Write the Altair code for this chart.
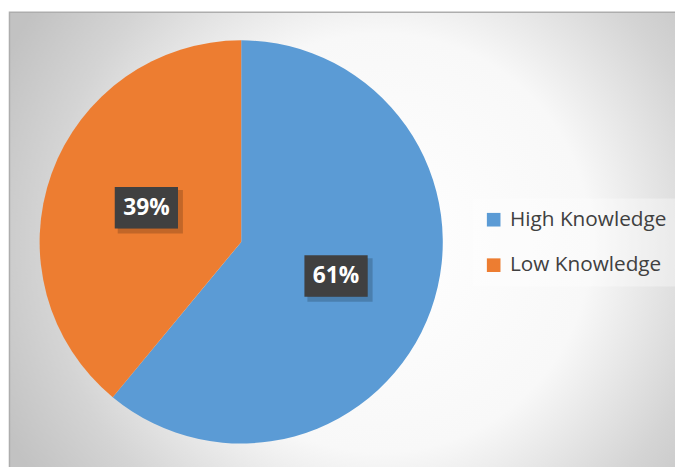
import altair as alt
import pandas as pd

categories = ["High Knowledge", "Low Knowledge"]
values = [61, 39]
labels = ["61%", "39%"]
colors = ["#5B9BD5", "#ED7D31"]

W, H = 675, 459
CX, CY, R = 236, 234, 204
LR = 102
BW, BH = 64, 42

df = pd.DataFrame({"category": categories, "value": values, "label": labels, "order": [0, 1]})

bg = alt.Chart(pd.DataFrame({"a": [0]})).mark_rect(
    fill=alt.RadialGradient(
        gradient="radial",
        stops=[
            alt.GradientStop(offset=0, color="#ffffff"),
            alt.GradientStop(offset=0.5, color="#f8f8f8"),
            alt.GradientStop(offset=0.8, color="#d4d4d4"),
            alt.GradientStop(offset=1, color="#c2c2c2"),
        ],
        x1=0.55, y1=0.5, r1=0, x2=0.55, y2=0.5, r2=0.62,
    ),
    stroke="#adadad",
    strokeWidth=1.5,
).encode(x=alt.value(1.5), x2=alt.value(W + 10), y=alt.value(1.5), y2=alt.value(H + 10))

pie = alt.Chart(df).mark_arc(outerRadius=R).encode(
    theta=alt.Theta("value:Q", stack=True),
    color=alt.Color(
        "category:N",
        scale=alt.Scale(domain=categories, range=colors),
        legend=alt.Legend(
            title=None,
            orient="none",
            legendX=470,
            legendY=190,
            symbolType="square",
            symbolSize=190,
            symbolStrokeWidth=0,
            symbolOpacity=1,
            labelFontSize=21,
            labelFont="Open Sans",
            labelColor="#404040",
            labelOffset=6,
            rowPadding=24,
            padding=11,
            fillColor="rgba(255,255,255,0.35)",
        ),
    ),
    order=alt.Order("order:Q"),
    x=alt.value(CX),
    y=alt.value(CY),
)

pos = (
    alt.Chart(df)
    .transform_joinaggregate(total="sum(value)")
    .transform_window(cum="sum(value)", sort=[alt.SortField("order")], frame=[None, 0])
    .transform_calculate(
        mid="(datum.cum - datum.value / 2) / datum.total * 2 * PI",
    )
    .transform_calculate(
        lx=f"{CX} + {LR} * sin(datum.mid)",
        ly=f"{CY} - {LR} * cos(datum.mid)",
    )
    .transform_calculate(
        bx1=f"datum.lx - {BW / 2}",
        bx2=f"datum.lx + {BW / 2}",
        by1=f"datum.ly - {BH / 2}",
        by2=f"datum.ly + {BH / 2}",
        sx1=f"datum.lx - {BW / 2} + 3",
        sx2=f"datum.lx + {BW / 2} + 5",
        sy1=f"datum.ly - {BH / 2} + 3",
        sy2=f"datum.ly + {BH / 2} + 5",
    )
)

shadow = pos.mark_rect(color="#000000", opacity=0.18).encode(
    x=alt.X("sx1:Q", scale=None, axis=None),
    x2="sx2:Q",
    y=alt.Y("sy1:Q", scale=None, axis=None),
    y2="sy2:Q",
)
shadow2 = pos.mark_rect(color="#000000", opacity=0.15).encode(
    x=alt.X("sx1:Q", scale=None, axis=None),
    x2="bx2:Q",
    y=alt.Y("sy1:Q", scale=None, axis=None),
    y2="by2:Q",
)
box = pos.mark_rect(color="#404040").encode(
    x=alt.X("bx1:Q", scale=None, axis=None),
    x2="bx2:Q",
    y=alt.Y("by1:Q", scale=None, axis=None),
    y2="by2:Q",
)
txt = pos.mark_text(
    color="#ffffff", font="Open Sans", fontWeight="bold", fontSize=23, baseline="middle", align="center"
).encode(
    x=alt.X("lx:Q", scale=None, axis=None),
    y=alt.Y("ly:Q", scale=None, axis=None),
    text="label:N",
)

chart = (
    alt.layer(bg, pie, shadow, shadow2, box, txt)
    .properties(width=W, height=H, padding=0, autosize=alt.AutoSizeParams(type="none"))
    .configure_view(stroke=None)
)

chart.save("out.html", embed_options={"renderer": "svg", "actions": False})
